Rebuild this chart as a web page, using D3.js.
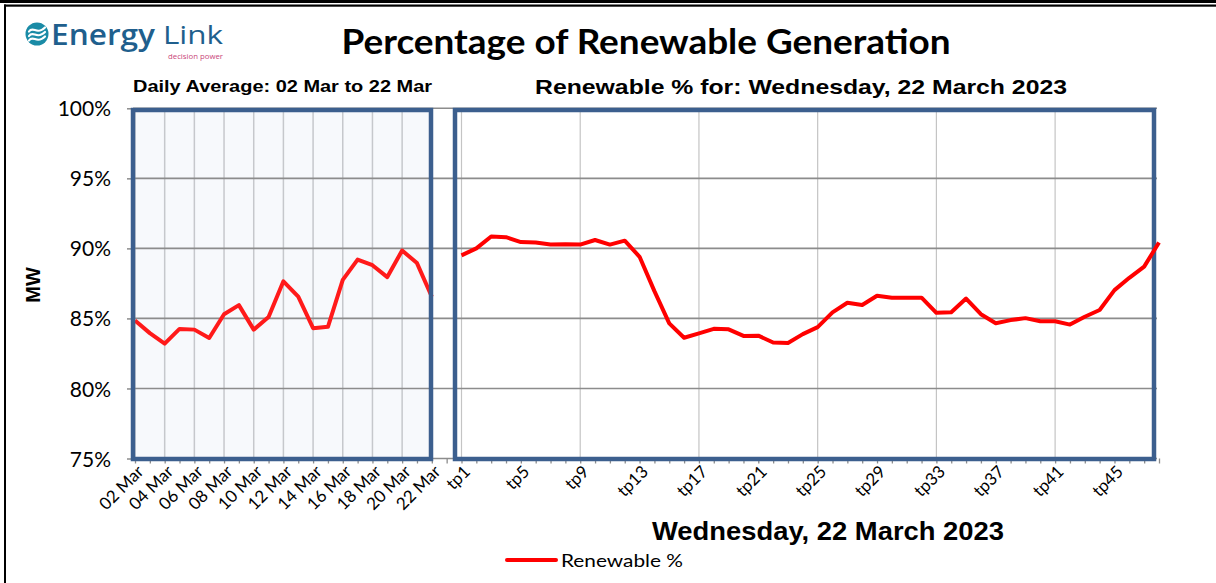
<!DOCTYPE html>
<html>
<head>
<meta charset="utf-8">
<script src="https://cdn.jsdelivr.net/npm/d3@7"></script>
<style>
  html, body { margin: 0; padding: 0; background: #fff; }
  svg { display: block; }
</style>
</head>
<body>
<svg id="chart"></svg>
<script>
// daily averages, 02 Mar .. 22 Mar
const days = ["02 Mar", "03 Mar", "04 Mar", "05 Mar", "06 Mar", "07 Mar", "08 Mar",
  "09 Mar", "10 Mar", "11 Mar", "12 Mar", "13 Mar", "14 Mar", "15 Mar", "16 Mar",
  "17 Mar", "18 Mar", "19 Mar", "20 Mar", "21 Mar", "22 Mar"];
const dailyValues = [84.85, 83.95, 83.2, 84.25, 84.2, 83.6, 85.3, 85.95, 84.2, 85.1,
  87.65, 86.55, 84.3, 84.4, 87.75, 89.2, 88.8, 87.95, 89.85, 88.95, 86.55];
const dayLabels = ["02 Mar", "04 Mar", "06 Mar", "08 Mar", "10 Mar", "12 Mar",
  "14 Mar", "16 Mar", "18 Mar", "20 Mar", "22 Mar"];

// trading periods for Wednesday 22 March 2023
const periods = ["tp1", "tp2", "tp3", "tp4", "tp5", "tp6", "tp7", "tp8", "tp9", "tp10",
  "tp11", "tp12", "tp13", "tp14", "tp15", "tp16", "tp17", "tp18", "tp19", "tp20",
  "tp21", "tp22", "tp23", "tp24", "tp25", "tp26", "tp27", "tp28", "tp29", "tp30",
  "tp31", "tp32", "tp33", "tp34", "tp35", "tp36", "tp37", "tp38", "tp39", "tp40",
  "tp41", "tp42", "tp43", "tp44", "tp45", "tp46", "tp47", "tp48"];
const periodValues = [89.5, 90.0, 90.85, 90.8, 90.45, 90.42, 90.27, 90.3, 90.27, 90.6,
  90.27, 90.55, 89.4, 86.95, 84.65, 83.62, 83.93, 84.26, 84.22, 83.75,
  83.77, 83.28, 83.25, 83.88, 84.38, 85.43, 86.12, 85.96, 86.62, 86.48,
  86.48, 86.48, 85.4, 85.44, 86.42, 85.3, 84.66, 84.88, 85.02, 84.8,
  84.8, 84.56, 85.12, 85.6, 87.02, 87.9, 88.7, 90.42];
const periodLabels = ["tp1", "tp5", "tp9", "tp13", "tp17", "tp21", "tp25", "tp29",
  "tp33", "tp37", "tp41", "tp45"];
const periodGrid = ["tp1", "tp9", "tp17", "tp25", "tp33", "tp41"];

const yTicks = [75, 80, 85, 90, 95, 100];

const width = 1216;
const height = 583;
const calibri = "Lato, 'Open Sans', sans-serif";
const arial = "'Liberation Sans', Arial, sans-serif";
const blue = "#3c5f8e";

const svg = d3.select("#chart").attr("width", width).attr("height", height);

// the exported chart is a little wider than the fonts, so stretch text to its box
function appendText(x, y, txt, style, len, anchor = "middle") {
  const t = svg.append("text").attr("x", x).attr("y", y)
    .attr("text-anchor", anchor).attr("style", style).text(txt);
  if (len) t.attr("textLength", len).attr("lengthAdjust", "spacingAndGlyphs");
  return t;
}

// outer frame
svg.append("rect").attr("x", 0).attr("y", 0).attr("width", width).attr("height", 3).attr("fill", "#000");
svg.append("rect").attr("x", 4).attr("y", 4.5).attr("width", width - 4).attr("height", 2.2).attr("fill", "#000");
svg.append("rect").attr("x", 4).attr("y", 4.5).attr("width", 2).attr("height", height).attr("fill", "#000");

// logo
const logo = svg.append("g");
logo.append("circle").attr("cx", 37).attr("cy", 34).attr("r", 11.5).attr("fill", "#1a8ba6");
[-4.5, 0, 4.5].forEach((d) => {
  logo.append("path")
    .attr("d", `M29,${36 + d} C33,${30 + d} 37,${40 + d} 45,${32 + d}`)
    .attr("fill", "none").attr("stroke", "#fff").attr("stroke-width", 2.2)
    .attr("stroke-linecap", "round");
});
appendText(51, 45, "Energy", "font: 600 28px 'Open Sans', sans-serif; fill:#1f5f8d;", 104, "start");
appendText(163, 44, "Link", "font: 400 26px 'Open Sans', sans-serif; fill:#1f5f8d;", 60, "start");
appendText(168, 58.5, "decision power", "font: 400 7.5px 'Open Sans', sans-serif; fill:#c9467a;", 55, "start");

// titles
appendText(646, 54, "Percentage of Renewable Generation", `font: 700 35px ${calibri}; fill:#000;`, 609);
appendText(282.5, 92, "Daily Average: 02 Mar to 22 Mar", `font: 700 17px ${arial}; fill:#000;`, 299);
appendText(801, 94, "Renewable % for: Wednesday, 22 March 2023", `font: 700 21px ${arial}; fill:#000;`, 532);
appendText(828, 540, "Wednesday, 22 March 2023", `font: 700 26px ${arial}; fill:#000;`, 352);
svg.append("text").attr("transform", "translate(40,285) rotate(-90)").attr("text-anchor", "middle")
  .attr("style", `font: 700 20px ${arial}; fill:#000;`)
  .text("MW");

// scales: one category axis, days + gap + periods
const categories = days.concat(["gap"], periods);
const x = d3.scalePoint().domain(categories).range([135, 1159]);
const y = d3.scaleLinear().domain([75, 100]).range([458.5, 108.3]);

const plotLeft = 133;
const plotRight = 1157;
const leftPanel = { x0: 133, x1: 431, y0: 110, y1: 459 };
const rightPanel = { x0: 455, x1: 1154, y0: 110, y1: 459 };

// left panel fill
svg.append("rect").attr("x", leftPanel.x0).attr("y", leftPanel.y0)
  .attr("width", leftPanel.x1 - leftPanel.x0).attr("height", leftPanel.y1 - leftPanel.y0)
  .attr("fill", "#f7f9fc");

// vertical gridlines
svg.append("g").selectAll("line")
  .data(dayLabels)
  .join("line")
  .attr("x1", (d) => x(d)).attr("x2", (d) => x(d))
  .attr("y1", leftPanel.y0).attr("y2", leftPanel.y1)
  .attr("stroke", "#c6c8cc").attr("stroke-width", 1.5);
svg.append("g").selectAll("line")
  .data(periodGrid)
  .join("line")
  .attr("x1", (d) => x(d)).attr("x2", (d) => x(d))
  .attr("y1", rightPanel.y0).attr("y2", rightPanel.y1)
  .attr("stroke", "#c4c4c4").attr("stroke-width", 1.2);

// y axis with horizontal gridlines
const yAxis = svg.append("g")
  .attr("transform", `translate(${plotLeft},0)`)
  .call(d3.axisLeft(y).tickValues(yTicks).tickSize(6).tickFormat((d) => d + "%"));
yAxis.select(".domain").remove();
yAxis.selectAll(".tick line").attr("stroke", "#8c8c8c").attr("stroke-width", 1.5);
yAxis.selectAll(".tick text")
  .attr("x", -22).attr("dy", "0.36em")
  .attr("style", `font: 400 21px ${calibri}; fill:#000;`);
svg.append("g").selectAll("line")
  .data(yTicks)
  .join("line")
  .attr("x1", plotLeft).attr("x2", plotRight)
  .attr("y1", (d) => y(d)).attr("y2", (d) => y(d))
  .attr("stroke", "#8c8c8c").attr("stroke-width", 1.6);

// x axis: minor ticks at every category
const xMinor = svg.append("g")
  .attr("transform", `translate(0,${y(75)})`)
  .call(d3.axisBottom(x).tickSize(5).tickFormat(""));
xMinor.select(".domain").remove();
xMinor.selectAll(".tick line").attr("stroke", "#8c8c8c").attr("stroke-width", 1.3);

// x axis labels
const xLabels = svg.append("g")
  .attr("transform", `translate(0,${y(75)})`)
  .call(d3.axisBottom(x).tickValues(dayLabels.concat(periodLabels)).tickSize(0));
xLabels.select(".domain").remove();
xLabels.selectAll(".tick text")
  .attr("text-anchor", "end")
  .attr("transform", "translate(5,10) rotate(-45)")
  .attr("dy", "0.35em").attr("y", 0)
  .attr("style", `font: 400 17px ${calibri}; fill:#000;`);

const line = d3.line().x((d) => x(d[0])).y((d) => y(d[1]));

// daily line (sits under the panel frame)
svg.append("path")
  .datum(d3.zip(days, dailyValues))
  .attr("d", line)
  .attr("fill", "none").attr("stroke", "#ff1a1a").attr("stroke-width", 4)
  .attr("stroke-linejoin", "round");

// panel frames
[leftPanel, rightPanel].forEach((p) => {
  svg.append("rect").attr("x", p.x0).attr("y", p.y0)
    .attr("width", p.x1 - p.x0).attr("height", p.y1 - p.y0)
    .attr("fill", "none").attr("stroke", blue).attr("stroke-width", 4.5);
});

// period line
svg.append("path")
  .datum(d3.zip(periods, periodValues))
  .attr("d", line)
  .attr("fill", "none").attr("stroke", "#ff0000").attr("stroke-width", 4)
  .attr("stroke-linejoin", "round");

// legend
svg.append("line").attr("x1", 507).attr("x2", 556).attr("y1", 560).attr("y2", 560)
  .attr("stroke", "#ff0000").attr("stroke-width", 4).attr("stroke-linecap", "round");
appendText(561, 567, "Renewable %", `font: 400 18px ${calibri}; fill:#000;`, 122, "start");
</script>
</body>
</html>
